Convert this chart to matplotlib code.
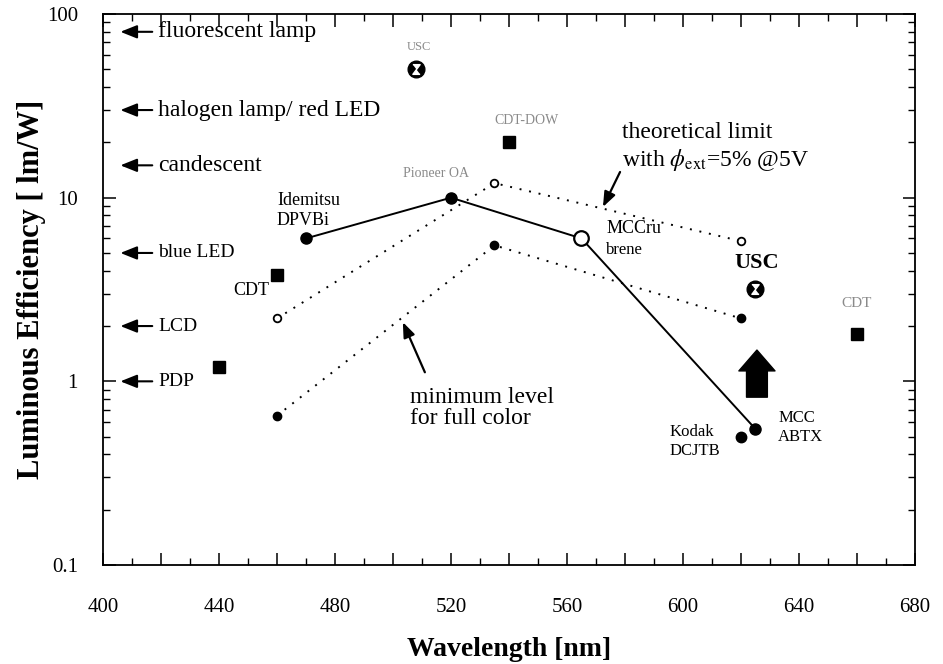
import numpy as np
import matplotlib.pyplot as plt
from matplotlib.ticker import MultipleLocator, FuncFormatter, LogLocator, NullFormatter

plt.rcParams['font.family'] = ['Liberation Serif', 'DejaVu Serif']
plt.rcParams['mathtext.fontset'] = 'stix'

# solid line: Idemitsu DPVBi -> peak -> MCC rubrene -> MCC ABTX
solid_wl = [470, 520, 565, 625]
solid_eff = [6.0, 10.0, 6.0, 0.55]

# theoretical limit with phi_ext = 5% @5V (dotted, open circles)
theo_wl = [460, 535, 620]
theo_eff = [2.2, 12.0, 5.8]

# minimum level for full color (dotted, small dots)
min_wl = [460, 535, 620]
min_eff = [0.65, 5.5, 2.2]

# filled squares (PDP-ish, CDT, CDT-DOW, CDT red)
sq_wl = [440, 460, 540, 660]
sq_eff = [1.2, 3.8, 20.0, 1.8]

# USC (hourglass circles)
usc_wl = [508, 625]
usc_eff = [50.0, 3.2]

# Kodak DCJTB
kodak_wl = [620]
kodak_eff = [0.5]

# reference light sources on the left
ref_names = ['fluorescent lamp', 'halogen lamp/ red LED', 'candescent', 'blue LED', 'LCD', 'PDP']
ref_eff = [80, 30, 15, 5, 2, 1]
ref_size = [17, 17, 17, 14, 14, 14]

fig = plt.figure(figsize=(9.43, 6.64), dpi=100)
ax = fig.add_axes([0.1092, 0.1491, 0.8611, 0.8298])
ax.set_yscale('log')
ax.set_xlim(400, 680)
ax.set_ylim(0.1, 100)

dot = (0, (1, 4))

ax.plot(solid_wl, solid_eff, '-', color='black', lw=1.4, zorder=2)
ax.plot(solid_wl[:2] + solid_wl[3:], solid_eff[:2] + solid_eff[3:], 'o', color='black', ms=8, zorder=3)
ax.plot([solid_wl[2]], [solid_eff[2]], 'o', mfc='white', mec='black', mew=1.6, ms=10.5, zorder=3)

ax.plot(theo_wl, theo_eff, linestyle=dot, color='black', lw=1.4, marker='o',
        mfc='white', mec='black', mew=1.3, ms=5.5, zorder=2)
ax.plot(min_wl, min_eff, linestyle=dot, color='black', lw=1.4, marker='o',
        mfc='black', mec='black', ms=6, zorder=2)

ax.plot(sq_wl, sq_eff, 's', color='black', ms=9, zorder=3)
ax.plot(kodak_wl, kodak_eff, 'o', color='black', ms=7.5, zorder=3)

hourglass = [(-0.45, 0.6), (0.45, 0.6), (-0.45, -0.6), (0.45, -0.6)]
ax.plot(usc_wl, usc_eff, 'o', color='black', ms=12, zorder=3)
ax.plot(usc_wl, usc_eff, linestyle='none', marker=hourglass, mfc='white', mec='white', ms=7, zorder=4)

# left reference arrows
for name, v, fs in zip(ref_names, ref_eff, ref_size):
    ax.annotate('', xy=(406, v), xytext=(417, v),
                arrowprops=dict(arrowstyle='-|>,head_length=1.0,head_width=0.4',
                                color='black', lw=1.5, shrinkA=0, shrinkB=0))
    ax.text(419, v, name, fontsize=fs, va='center', ha='left')

# labels
gray = '#8a8a8a'
ax.text(509, 66, 'USC', fontsize=9, color=gray, ha='center', va='center')
ax.text(546, 26.4, 'CDT-DOW', fontsize=10, color=gray, ha='center', va='center')
ax.text(515, 13.6, 'Pioneer OA', fontsize=10, color=gray, ha='center', va='center')
ax.text(460, 9.7, 'Idemitsu', fontsize=13, ha='left', va='center')
ax.text(460, 7.55, 'DPVBi', fontsize=13, ha='left', va='center')
ax.text(451, 3.14, 'CDT', fontsize=13, ha='center', va='center')
ax.text(573.5, 6.83, 'MCCru', fontsize=13, ha='left', va='center')
ax.text(573.5, 5.19, 'brene', fontsize=12, ha='left', va='center')
ax.text(579, 22.5, 'theoretical limit', fontsize=17, ha='left', va='center')
ax.text(579, 16.0, r'with $\phi_{\rm ext}$=5% @5V', fontsize=17, ha='left', va='center')
ax.text(625.5, 4.4, 'USC', fontsize=16, fontweight='bold', ha='center', va='center')
ax.text(660, 2.67, 'CDT', fontsize=11, color=gray, ha='center', va='center')
ax.text(595.5, 0.53, 'Kodak', fontsize=12, ha='left', va='center')
ax.text(595.5, 0.42, 'DCJTB', fontsize=12, ha='left', va='center')
ax.text(632.8, 0.63, 'MCC', fontsize=12, ha='left', va='center')
ax.text(632.8, 0.497, 'ABTX', fontsize=12, ha='left', va='center')
ax.text(506, 0.82, 'minimum level', fontsize=17, ha='left', va='center')
ax.text(506, 0.63, 'for full color', fontsize=17, ha='left', va='center')

# pointer arrows
ax.annotate('', xy=(572.4, 8.9), xytext=(578.3, 13.8),
            arrowprops=dict(arrowstyle='-|>,head_length=0.9,head_width=0.35',
                            color='black', lw=1.6, shrinkA=0, shrinkB=0))
ax.annotate('', xy=(503.4, 2.1), xytext=(511, 1.12),
            arrowprops=dict(arrowstyle='-|>,head_length=0.9,head_width=0.35',
                            color='black', lw=1.6, shrinkA=0, shrinkB=0))

# big upward block arrow
ax.annotate('', xy=(625.5, 1.48), xytext=(625.5, 0.82),
            arrowprops=dict(arrowstyle='simple,head_length=0.75,head_width=1.3,tail_width=0.75',
                            fc='black', ec='black', mutation_scale=20, shrinkA=0, shrinkB=0))

# axes styling
ax.xaxis.set_major_locator(MultipleLocator(20))
ax.xaxis.set_minor_locator(MultipleLocator(10))
ax.xaxis.set_major_formatter(FuncFormatter(lambda v, p: f'{int(v)}' if int(round(v)) % 40 == 0 else ''))
ax.yaxis.set_major_locator(LogLocator(base=10, numticks=10))
ax.yaxis.set_minor_locator(LogLocator(base=10, subs=np.arange(2, 10), numticks=10))
ax.yaxis.set_minor_formatter(NullFormatter())
ax.yaxis.set_major_formatter(FuncFormatter(lambda v, p: {0.1: '0.1', 1: '1', 10: '10', 100: '100'}.get(round(v, 3), '')))

ax.tick_params(which='both', direction='in', top=True, right=True, labelsize=15)
ax.tick_params(which='major', length=9, width=1.1)
ax.tick_params(which='minor', length=5, width=1.0)
ax.tick_params(axis='x', which='major', pad=24)
ax.tick_params(axis='y', which='major', pad=18)
for s in ax.spines.values():
    s.set_linewidth(1.3)

ax.set_xlabel('Wavelength [nm]', fontsize=20, fontweight='bold', labelpad=14)
ax.set_ylabel('Luminous Efficiency [ lm/W]', fontsize=22, fontweight='bold', va='center')
ax.yaxis.set_label_coords(-0.088, 0.5)

fig.savefig('out.png', dpi=100)
